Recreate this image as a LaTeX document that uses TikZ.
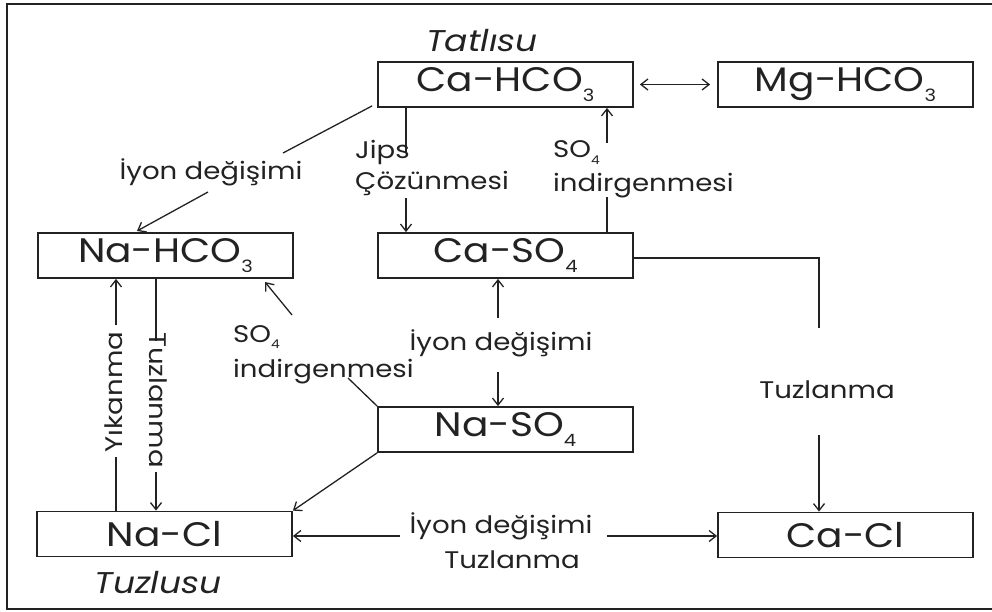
\documentclass[tikz,border=0pt]{standalone}
\usepackage{fontspec}
\setmainfont{Poppins}[FakeStretch=1.15]
\usetikzlibrary{arrows.meta}
\definecolor{ink}{HTML}{222222}
% low chemical index, set in the current face
\newcommand{\lowidx}[1]{\raisebox{-0.28em}{\scalebox{0.5}{#1}}}
\begin{document}
\begin{tikzpicture}[x=1pt,y=-1pt,
  every node/.style={text=ink},
  facies/.style={draw=ink, line width=1.8pt, minimum width=255pt, minimum height=45pt,
                 inner sep=0pt, font=\fontsize{34}{38}\selectfont},
  lbl/.style={font=\fontsize{24}{28}\selectfont, inner sep=0pt},
  water/.style={font=\fontsize{30}{34}\selectfont\itshape, inner sep=0pt},
  conn/.style={draw=ink, line width=1.3pt},
  arr/.style={conn, -{Straight Barb[length=7pt,width=11pt,line width=1.3pt]}},
  darr/.style={conn, {Straight Barb[length=7pt,width=11pt,line width=1.3pt]}-{Straight Barb[length=7pt,width=11pt,line width=1.3pt]}},
  frame/.style={draw=ink, line width=2.6pt}]
\useasboundingbox (0,0) rectangle (992,612);

% open frame (no right side)
\draw[frame] (992,4) -- (7,4) -- (7,609) -- (992,609);

% water facies boxes
\node[facies] (cahco) at (505.5,84.5) {Ca-HCO\lowidx{3}};
\node[facies] (mghco) at (845.5,84.5) {Mg-HCO\lowidx{3}};
\node[facies] (nahco) at (165.5,255.5) {Na-HCO\lowidx{3}};
\node[facies] (caso)  at (505.5,255.5) {Ca-SO\lowidx{4}};
\node[facies] (naso)  at (505.5,429.5) {Na-SO\lowidx{4}};
\node[facies] (nacl)  at (164.5,534) {Na-Cl};
\node[facies] (cacl)  at (845.5,535) {Ca-Cl};

% end members
\node[water, anchor=base] (fresh) at (482,52) {Tatlısu};
\node[water, anchor=base] (salty) at (158,593) {Tuzlusu};

% process labels
\node[lbl, anchor=base] (ion1) at (211,180) {İyon değişimi};
\node[lbl, anchor=base west] (jipsA) at (355,159) {Jips};
\node[lbl, anchor=base west] (jipsB) at (355,190) {Çözünmesi};
\node[lbl, anchor=base west] (redA) at (553,158) {SO\lowidx{4}};
\node[lbl, anchor=base west] (redB) at (553,192) {indirgenmesi};
\node[lbl, anchor=base west] (redC) at (233,342) {SO\lowidx{4}};
\node[lbl, anchor=base west] (redD) at (233,377) {indirgenmesi};
\node[lbl, anchor=base] (ion2) at (501,350) {İyon değişimi};
\node[lbl, anchor=base] (tuz1) at (827,398) {Tuzlanma};
\node[lbl, anchor=base] (ion3) at (501,533) {İyon değişimi};
\node[lbl, anchor=base] (tuz2) at (512,568) {Tuzlanma};
\node[lbl, rotate=90] (yik) at (114,392) {Yıkanma};
\node[lbl, rotate=-90] (tuz3) at (158,400) {Tuzlanma};

% free ends of broken connectors
\coordinate (i1b) at (283,153);
\coordinate (i1c) at (208,192);
\coordinate (i1d) at (137,231);
\coordinate (j1) at (406,152);
\coordinate (j2) at (406,198);
\coordinate (s1) at (607,197);
\coordinate (s2) at (607,143);
\coordinate (t1) at (819,328);
\coordinate (t2) at (819,435);
\coordinate (u1) at (498,318);
\coordinate (u2) at (498,372);
\coordinate (v1) at (348,378);
\coordinate (v2) at (292,315);
\coordinate (v3) at (265,282);
\coordinate (y1) at (116,457);
\coordinate (y2) at (116,325);
\coordinate (z1) at (156,341);
\coordinate (z2) at (156,472);
\coordinate (w1) at (400,536);
\coordinate (w2) at (607,536);

% connectors
\draw[darr, shorten <=6pt, shorten >=7pt] (cahco.east) -- (mghco.west);
\draw[conn] ([xshift=-5pt,yshift=2pt]cahco.south west) -- (i1b);
\draw[arr] (i1c) -- (i1d);
\draw[conn] (cahco.south -| j1) -- (j1);
\draw[arr] (j2) -- (caso.north -| j2);
\draw[conn] (caso.north -| s1) -- (s1);
\draw[arr] (s2) -- (cahco.south -| s2);
\draw[conn] ([yshift=-2.5pt]caso.east) -| (t1);
\draw[arr] (t2) -- (cacl.north -| t2);
\draw[arr] (u1) -- (caso.south -| u1);
\draw[arr] (u2) -- (naso.north -| u2);
\draw[conn] (naso.north west) -- (v1);
\draw[arr] (v2) -- (v3);
\draw[conn] (nacl.north -| y1) -- (y1);
\draw[arr] (y2) -- (nahco.south -| y2);
\draw[conn] (nahco.south -| z1) -- (z1);
\draw[arr] (z2) -- (nacl.north -| z2);
\draw[arr] (naso.south west) -- (nacl.north east);
\draw[arr] (w1) -- (nacl.east |- w1);
\draw[arr] (w2) -- (cacl.west |- w2);
\end{tikzpicture}
\end{document}
